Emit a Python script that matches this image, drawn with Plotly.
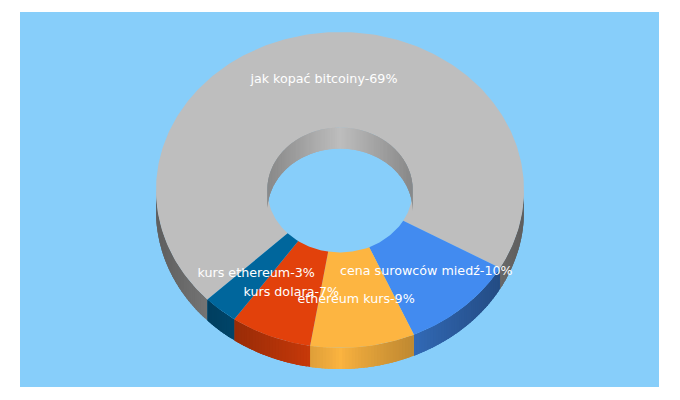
import numpy as np
import plotly.graph_objects as go

names = ["jak kopać bitcoiny", "cena surowców miedź", "ethereum kurs", "kurs dolara", "kurs ethereum"]
values = [69, 10, 9, 7, 3]
colors = ["#bebebe", "#428bf0", "#fdb541", "#e2410b", "#00669c"]

BG = "#87cefa"
CX, CY = 340, 190
RX, RY = 184, 158
HOLE = 0.395
DEPTH = 21
LABEL_R = 0.70
START = 136.1  # screen degrees, clockwise from 3 o'clock


def rgb(hex_color, f):
    c = [int(hex_color[i:i + 2], 16) for i in (1, 3, 5)]
    return "rgb(%d,%d,%d)" % tuple(int(v * f) for v in c)


def ring(r, a, dy=0):
    rad = np.radians(a)
    return CX + RX * r * np.cos(rad), CY + RY * r * np.sin(rad) + dy


def add_poly(fig, x, y, color):
    fig.add_trace(go.Scatter(
        x=list(x), y=list(y), mode="lines", fill="toself", fillcolor=color,
        line=dict(color=color, width=0), hoverinfo="skip", showlegend=False))


def add_wall(fig, r, a0, a1, color, shade):
    # wall is a row of thin strips, each one runs under the next to hide seams
    edges = np.append(np.arange(a0, a1, 1.0), a1)
    for s, e in zip(edges[:-1], edges[1:]):
        aa = np.linspace(s, min(e + 1.5, a1), 4)
        x, y = ring(r, aa)
        x2, y2 = ring(r, aa[::-1], DEPTH)
        t = abs(np.cos(np.radians((s + e) / 2)))
        add_poly(fig, np.r_[x, x2], np.r_[y, y2], rgb(color, shade(t)))


total = sum(values)
sweeps = [v / total * 360 for v in values]
starts = START + np.r_[0, np.cumsum(sweeps)[:-1]]

fig = go.Figure()

# outer wall, only the front half shows
for a, sw, col in zip(starts, sweeps, colors):
    for shift in (0, 360):
        lo, hi = max(a - shift, 0), min(a + sw - shift, 180)
        if lo < hi:
            add_wall(fig, 1, lo, hi, col, lambda t: 1 - 0.5 * t ** 0.8)

# top faces
for a, sw, col in zip(starts, sweeps, colors):
    aa = np.linspace(a, a + sw, max(int(sw), 2) + 1)
    x, y = ring(1, aa)
    x2, y2 = ring(HOLE, aa[::-1])
    add_poly(fig, np.r_[x, x2], np.r_[y, y2], col)

# inner wall, back half of the hole
add_wall(fig, HOLE, 180, 360, colors[0], lambda t: 1 - 0.28 * t)

mids = starts + np.array(sweeps) / 2
lx, ly = ring(LABEL_R, mids)
fig.add_trace(go.Scatter(
    x=lx, y=ly, mode="text",
    text=["%s-%d%%" % (n, v) for n, v in zip(names, values)],
    textposition="middle center",
    textfont=dict(family="DejaVu Sans", size=12.7, color="white"),
    hoverinfo="skip", showlegend=False))

fig.update_layout(
    width=680, height=400,
    margin=dict(l=20, r=21, t=12, b=13),
    paper_bgcolor="white", plot_bgcolor=BG,
    xaxis=dict(range=[20, 659], visible=False, fixedrange=True),
    yaxis=dict(range=[387, 12], visible=False, fixedrange=True),
)

fig.write_html("out.html", config={"displayModeBar": False},
               post_script="document.body.style.margin = '0';")
